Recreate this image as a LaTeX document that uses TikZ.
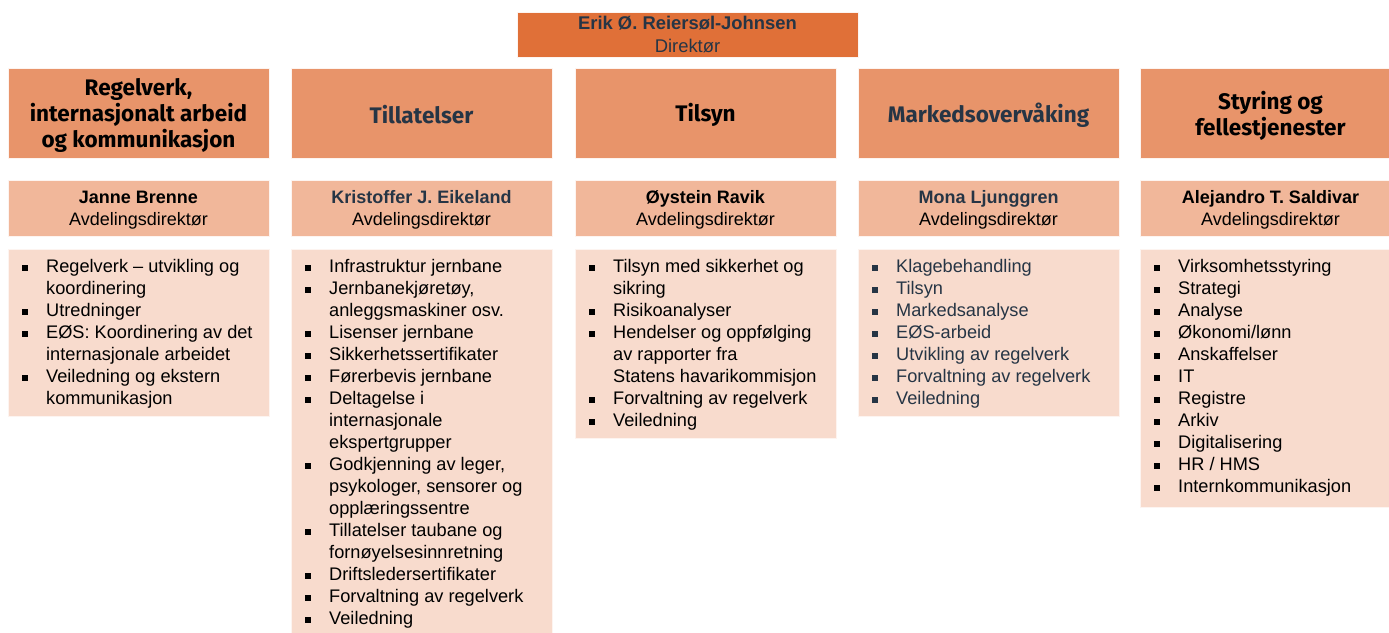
\documentclass[tikz,border=0pt]{standalone}
\usepackage{fontspec}
\setmainfont{Liberation Sans}
\newfontfamily\headfont{Fira Sans}
\usepackage{array}
\definecolor{cTop}{HTML}{E07038}
\definecolor{cHead}{HTML}{E8946A}
\definecolor{cName}{HTML}{F1B79A}
\definecolor{cList}{HTML}{F8DBCD}
\definecolor{cSlate}{HTML}{263545}
\newcommand{\blt}{\rule[1.8pt]{6pt}{6pt}}
\newenvironment{blist}{\fontsize{18.2}{22}\selectfont\renewcommand\arraystretch{1}\begin{tabular}{@{}>{\raggedright}p{24pt}@{}l@{}}}{\end{tabular}}
\begin{document}
\begin{tikzpicture}[x=1pt,y=-1pt,
  boxbase/.style={anchor=north west,inner sep=0pt,outer sep=0pt,draw=white!70!cList,line width=0.8pt},
  topbox/.style={boxbase,fill=cTop,minimum width=341pt,minimum height=45pt},
  headbox/.style={boxbase,fill=cHead,minimum width=261pt,minimum height=90pt},
  namebox/.style={boxbase,fill=cName,minimum width=261pt,minimum height=56pt},
  listbox/.style={boxbase,fill=cList,minimum width=261pt},
  headtext/.style={font=\headfont\bfseries\fontsize{22.5}{26}\selectfont,align=center,inner sep=0pt},
  nametext/.style={font=\fontsize{18}{22}\selectfont,align=center,inner sep=0pt},
  listtext/.style={anchor=north west,inner sep=0pt,align=left}
]
\useasboundingbox (0,0) rectangle (1389,632);
\clip (0,0) rectangle (1389,632);
% director
\node[topbox] (dirbox) at (517,12) {};
\node[nametext,text=cSlate,font=\fontsize{18.4}{23}\selectfont] (dir) at ([yshift=-0.5pt]dirbox.center) {\textbf{Erik Ø. Reiersøl-Johnsen}\\Direktør};
% column heads
\node[headbox] (h1) at (8,68) {};
\node[headbox] (h2) at (291,68) {};
\node[headbox] (h3) at (575,68) {};
\node[headbox] (h4) at (858,68) {};
\node[headbox] (h5) at (1140,68) {};
\node[headtext,text=black] (h1t) at ([yshift=-2pt]h1.center) {Regelverk,\\internasjonalt arbeid\\og kommunikasjon};
\node[headtext,text=cSlate] (h2t) at ([yshift=-2pt]h2.center) {Tillatelser};
\node[headtext,text=black] (h3t) at ([yshift=-2pt]h3.center) {Tilsyn};
\node[headtext,text=cSlate] (h4t) at ([yshift=-2pt]h4.center) {Markedsovervåking};
\node[headtext,text=black] (h5t) at ([yshift=-2.5pt]h5.center) {Styring og\\fellestjenester};
% names
\node[namebox] (n1) at (8,180) {};
\node[namebox] (n2) at (291,180) {};
\node[namebox] (n3) at (575,180) {};
\node[namebox] (n4) at (858,180) {};
\node[namebox] (n5) at (1140,180) {};
\node[nametext] (n1t) at ([yshift=-2pt]n1.center) {\textbf{Janne Brenne}\\Avdelingsdirektør};
\node[nametext] (n2t) at ([yshift=-2pt]n2.center) {\textcolor{cSlate}{\textbf{Kristoffer J. Eikeland}}\\Avdelingsdirektør};
\node[nametext] (n3t) at ([yshift=-2pt]n3.center) {\textbf{Øystein Ravik}\\Avdelingsdirektør};
\node[nametext] (n4t) at ([yshift=-2pt]n4.center) {\textcolor{cSlate}{\textbf{Mona Ljunggren}}\\Avdelingsdirektør};
\node[nametext] (n5t) at ([yshift=-2pt]n5.center) {\textbf{Alejandro T. Saldivar}\\Avdelingsdirektør};
% list boxes
\node[listbox,minimum height=167pt] (l1) at (8,249) {};
\node[listbox,minimum height=390pt] (l2) at (291,249) {};
\node[listbox,minimum height=189pt] (l3) at (575,249) {};
\node[listbox,minimum height=167pt] (l4) at (858,249) {};
\node[listbox,minimum height=258pt] (l5) at (1140,249) {};
\node[listtext] (l1t) at ([xshift=14pt,yshift=-8pt]l1.north west) {\begin{blist}
\blt & Regelverk – utvikling og\\
 & koordinering\\
\blt & Utredninger\\
\blt & EØS: Koordinering av det\\
 & internasjonale arbeidet\\
\blt & Veiledning og ekstern\\
 & kommunikasjon
\end{blist}};
\node[listtext] (l2t) at ([xshift=14pt,yshift=-8pt]l2.north west) {\begin{blist}
\blt & Infrastruktur jernbane\\
\blt & Jernbanekjøretøy,\\
 & anleggsmaskiner osv.\\
\blt & Lisenser jernbane\\
\blt & Sikkerhetssertifikater\\
\blt & Førerbevis jernbane\\
\blt & Deltagelse i\\
 & internasjonale\\
 & ekspertgrupper\\
\blt & Godkjenning av leger,\\
 & psykologer, sensorer og\\
 & opplæringssentre\\
\blt & Tillatelser taubane og\\
 & fornøyelsesinnretning\\
\blt & Driftsledersertifikater\\
\blt & Forvaltning av regelverk\\
\blt & Veiledning
\end{blist}};
\node[listtext] (l3t) at ([xshift=14pt,yshift=-8pt]l3.north west) {\begin{blist}
\blt & Tilsyn med sikkerhet og\\
 & sikring\\
\blt & Risikoanalyser\\
\blt & Hendelser og oppfølging\\
 & av rapporter fra\\
 & Statens havarikommisjon\\
\blt & Forvaltning av regelverk\\
\blt & Veiledning
\end{blist}};
\node[listtext,text=cSlate] (l4t) at ([xshift=14pt,yshift=-8pt]l4.north west) {\color{cSlate}\begin{blist}
\blt & Klagebehandling\\
\blt & Tilsyn\\
\blt & Markedsanalyse\\
\blt & EØS-arbeid\\
\blt & Utvikling av regelverk\\
\blt & Forvaltning av regelverk\\
\blt & Veiledning
\end{blist}};
\node[listtext] (l5t) at ([xshift=14pt,yshift=-8pt]l5.north west) {\begin{blist}
\blt & Virksomhetsstyring\\
\blt & Strategi\\
\blt & Analyse\\
\blt & Økonomi/lønn\\
\blt & Anskaffelser\\
\blt & IT\\
\blt & Registre\\
\blt & Arkiv\\
\blt & Digitalisering\\
\blt & HR / HMS\\
\blt & Internkommunikasjon
\end{blist}};
\end{tikzpicture}
\end{document}
